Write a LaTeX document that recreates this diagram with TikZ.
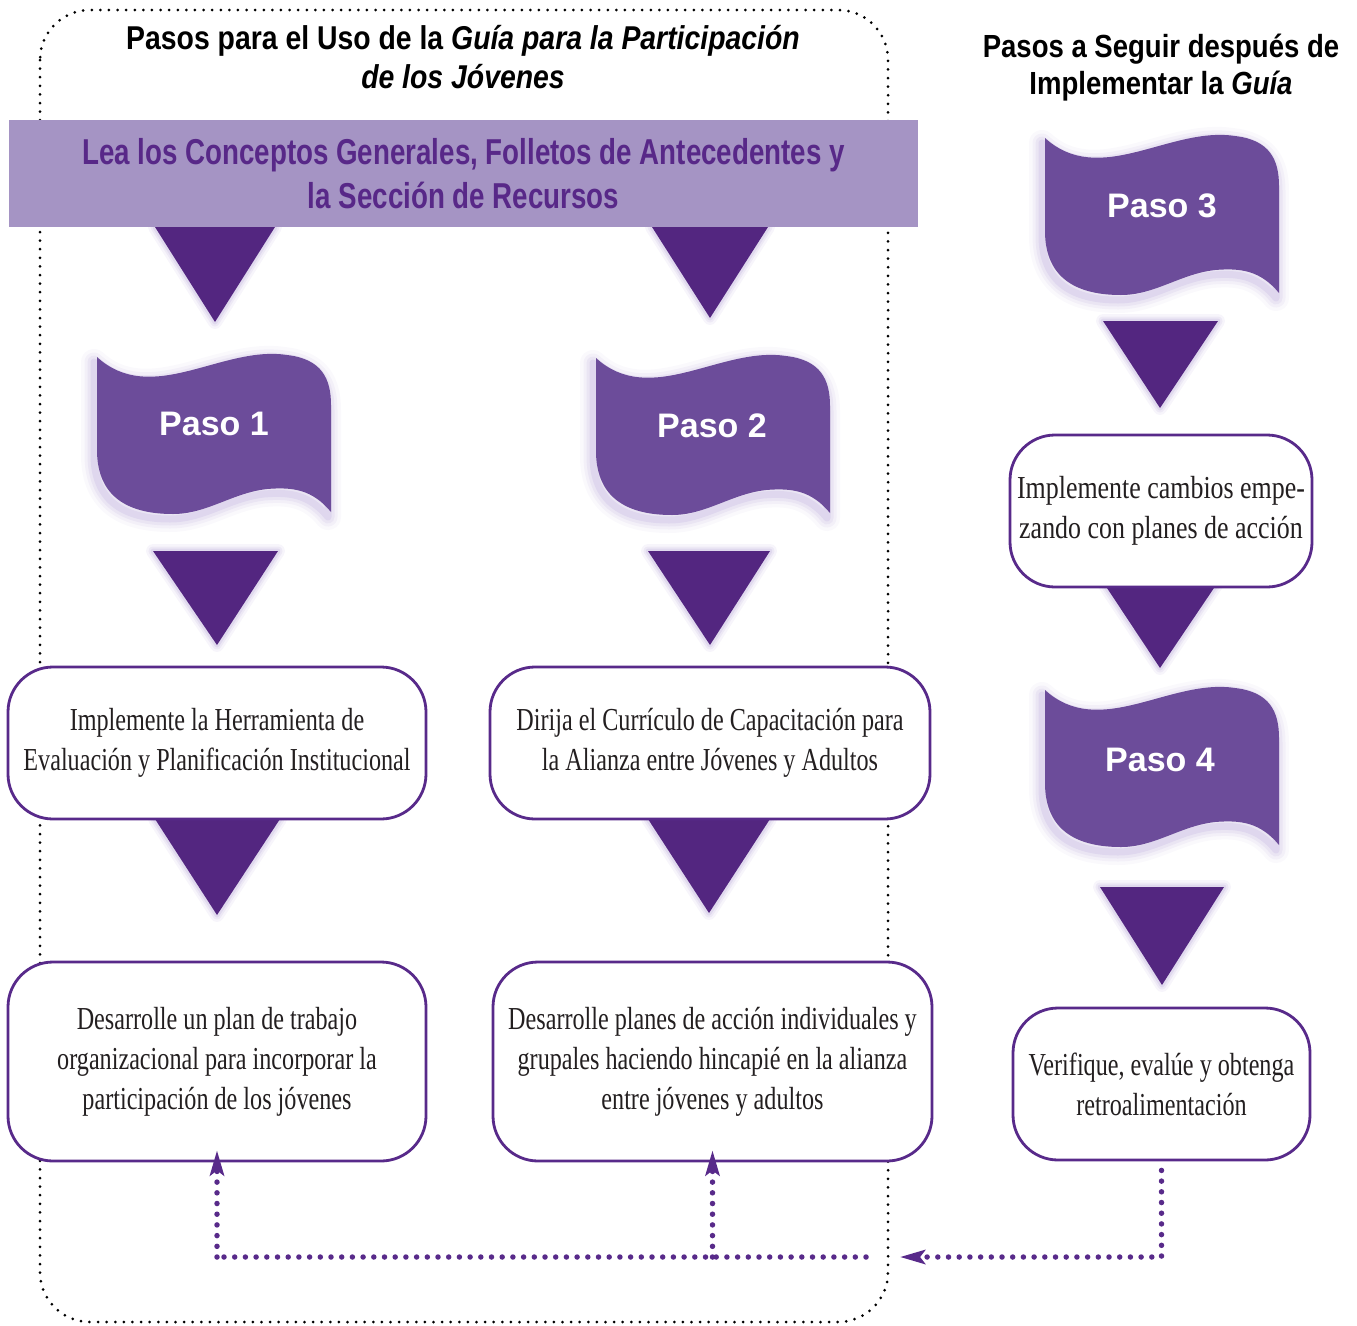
\documentclass[tikz,border=0pt]{standalone}
\usepackage{fontspec}
\usetikzlibrary{arrows.meta,calc}
\newfontfamily\headfont{Liberation Sans}[FakeStretch=0.86]
\newfontfamily\bannerfont{Liberation Sans}[FakeStretch=0.77]
\newfontfamily\pasofont{Liberation Sans}
\newfontfamily\boxfont{Liberation Serif}[FakeStretch=0.755]
\newfontfamily\boxfontwide{Liberation Serif}[FakeStretch=0.81]
\definecolor{bannerfill}{RGB}{165,148,196}
\definecolor{bannertext}{RGB}{88,40,136}
\definecolor{flagfill}{RGB}{108,76,154}
\definecolor{trifill}{RGB}{83,38,128}
\definecolor{boxline}{RGB}{88,42,138}
\definecolor{glowc}{RGB}{190,175,220}
\definecolor{bodytext}{RGB}{35,31,32}
\tikzset{
  stepbox/.style={draw=boxline, line width=2.8pt, fill=white, rounded corners=45pt,
    align=center, font=\boxfont\fontsize{32}{40}\selectfont, text=bodytext, inner sep=0pt},
  stepboxwide/.style={stepbox, font=\boxfontwide\fontsize{32}{40}\selectfont},
  pasotext/.style={text=white, font=\pasofont\bfseries\fontsize{34}{40}\selectfont},
  headtext/.style={align=center, text=black, font=\headfont\bfseries\fontsize{33}{39}\selectfont},
  headtextr/.style={headtext, font=\headfont\bfseries\fontsize{32}{37}\selectfont},
  bannertxt/.style={fill=bannerfill, text=bannertext, align=center, inner sep=0pt,
    font=\bannerfont\bfseries\fontsize{36}{44}\selectfont},
  framedots/.style={draw=black, line width=3pt, dash pattern=on 0pt off 8.6pt, line cap=round},
  fb/.style={draw=boxline, line width=5.5pt, dash pattern=on 0pt off 10.7pt, line cap=round},
  fbtip/.tip={Stealth[length=25pt,width=14pt,inset=5pt]},
  flagpath/.style={insert path={(0,0) .. controls (55,50) and (125,-12) .. (190,-2)
     .. controls (225,2) and (234,22) .. (234,48) -- (234,155)
     .. controls (215,132) and (195,130) .. (170,132)
     .. controls (135,136) and (110,157) .. (76,157)
     .. controls (25,157) and (0,135) .. (0,93) -- cycle}},
  flag/.pic={
    \foreach \w/\o in {26/0.08,19/0.12,13/0.17,7/0.25}{
      \path[draw=glowc, line width=\w pt, opacity=\o, line join=round, shift={(-3,5)}, flagpath];
    }
    \path[fill=flagfill, flagpath];
  }
}
\newcommand\downtri[5]{%
  \foreach \w/\o in {14/0.12,9/0.18,5/0.28}{
    \draw[glowc, line width=\w pt, opacity=\o, line join=round] (#1,#3) -- (#2,#3) -- (#4,#5) -- cycle;}
  \fill[trifill] (#1,#3) -- (#2,#3) -- (#4,#5) -- cycle;}
\begin{document}
\begin{tikzpicture}[x=1pt,y=-1pt]
\useasboundingbox (0,0) rectangle (1357,1325);
% dotted frame
\draw[framedots, rounded corners=50pt] (40,10) rectangle (888,1322);
% triangles
\downtri{155}{275}{227}{215}{322}
\downtri{652}{768}{227}{710}{318}
\downtri{153}{278}{551}{217}{645}
\downtri{648}{770}{551}{710}{645}
\downtri{155}{280}{819}{217}{915}
\downtri{648}{770}{819}{709}{913}
\downtri{1103}{1218}{321}{1160}{408}
\downtri{1105}{1216}{585}{1160}{668}
\downtri{1100}{1224}{887}{1162}{985}
% flags
\pic at (97,357) {flag};
\pic at (596,358) {flag};
\pic at (1045,138) {flag};
\pic at (1045,690) {flag};
\node[pasotext] (p1) at (214,424) {Paso 1};
\node[pasotext] (p2) at (712,426) {Paso 2};
\node[pasotext] (p3) at (1162,206) {Paso 3};
\node[pasotext] (p4) at (1160,760) {Paso 4};
% boxes
\node[stepbox, minimum width=418pt, minimum height=152pt] (A) at (217,743)
  {Implemente la Herramienta de\\Evaluación y Planificación Institucional};
\node[stepbox, minimum width=440pt, minimum height=152pt] (B) at (710,743)
  {Dirija el Currículo de Capacitación para\\la Alianza entre Jóvenes y Adultos};
\node[stepbox, minimum width=418pt, minimum height=199pt] (C) at (217,1061.5)
  {Desarrolle un plan de trabajo\\organizacional para incorporar la\\participación de los jóvenes};
\node[stepbox, minimum width=439pt, minimum height=199pt] (D) at (712.5,1061.5)
  {Desarrolle planes de acción individuales y\\grupales haciendo hincapié en la alianza\\entre jóvenes y adultos};
\node[stepboxwide, minimum width=302pt, minimum height=152pt] (E) at (1161,511)
  {Implemente cambios empe-\\zando con planes de acción};
\node[stepbox, minimum width=297pt, minimum height=152pt] (F) at (1161.5,1084)
  {Verifique, evalúe y obtenga\\retroalimentación};
% banner
\node[bannertxt, minimum width=909pt, minimum height=107pt] (ban) at (463.5,173.5)
  {Lea los Conceptos Generales, Folletos de Antecedentes y\\la Sección de Recursos};
% titles
\node[headtext] (t1) at (463,57) {Pasos para el Uso de la \textit{Guía para la Participación}\\\textit{de los Jóvenes}};
\node[headtextr] (t2) at (1161,68) {Pasos a Seguir después de\\Implementar la \textit{Guía}};
% feedback arrows
\coordinate (hl) at (866,1257);
\coordinate (tipR) at (900,1257);
\coordinate (jc) at (C.south |- hl);
\coordinate (jd) at (D.south |- hl);
\draw[fb, -fbtip] ($(F.south)+(0,9)$) |- (tipR);
\draw[fb] (hl) -- (jc);
\draw[fb, -fbtip] (jc) -- ($(C.south)+(0,-12)$);
\draw[fb, -fbtip] (jd) -- ($(D.south)+(0,-12)$);
\end{tikzpicture}
\end{document}
